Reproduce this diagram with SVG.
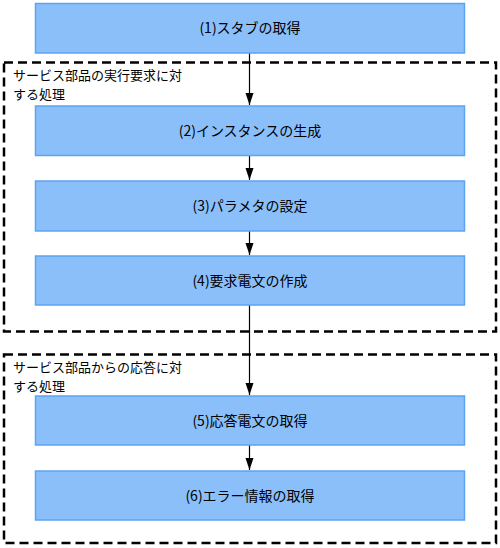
<svg xmlns="http://www.w3.org/2000/svg" width="500" height="548" viewBox="0 0 500 548">
<style>
.box{fill:#8BBFFA;stroke:#5CA4F2;stroke-width:1.5}
.lbl{font-family:"Noto Sans CJK JP","Liberation Sans",sans-serif;font-size:14px;fill:#000;text-anchor:middle}
.grp{fill:none;stroke:#000;stroke-width:2.5;stroke-dasharray:9 5}
.gl{font-family:"Noto Sans CJK JP","Liberation Sans",sans-serif;font-size:13px;fill:#000}
.con{stroke:#000;stroke-width:1.2;fill:none}
</style>
<defs>
<marker id="ah" markerWidth="12" markerHeight="10" refX="12" refY="5" orient="auto" markerUnits="userSpaceOnUse" viewBox="0 0 12 10">
<path d="M0,1 L0,9 L12,5 Z" fill="#000"/>
</marker>
</defs>
<g id="group1">
<rect class="grp" x="4" y="62.5" width="492" height="269"/>
<text class="gl" x="13" y="80">サービス部品の実行要求に対</text>
<text class="gl" x="13" y="99">する処理</text>
</g>
<g id="group2">
<rect class="grp" x="4" y="354.5" width="492" height="188.5"/>
<text class="gl" x="13" y="372">サービス部品からの応答に対</text>
<text class="gl" x="13" y="391">する処理</text>
</g>
<g id="connectors">
<line class="con" x1="249.5" y1="53" x2="249.5" y2="105" marker-end="url(#ah)"/>
<line class="con" x1="249.5" y1="156" x2="249.5" y2="180" marker-end="url(#ah)"/>
<line class="con" x1="249.5" y1="231" x2="249.5" y2="255" marker-end="url(#ah)"/>
<line class="con" x1="249.5" y1="305" x2="249.5" y2="395" marker-end="url(#ah)"/>
<line class="con" x1="249.5" y1="445" x2="249.5" y2="470" marker-end="url(#ah)"/>
</g>
<g id="n1"><rect class="box" x="35.5" y="3.5" width="429" height="49.5"/><text class="lbl" x="250" y="33">(1)スタブの取得</text></g>
<g id="n2"><rect class="box" x="35.5" y="106" width="429" height="49.5"/><text class="lbl" x="250" y="136">(2)インスタンスの生成</text></g>
<g id="n3"><rect class="box" x="35.5" y="181" width="429" height="50"/><text class="lbl" x="250" y="211">(3)パラメタの設定</text></g>
<g id="n4"><rect class="box" x="35.5" y="256" width="429" height="49"/><text class="lbl" x="250" y="286">(4)要求電文の作成</text></g>
<g id="n5"><rect class="box" x="35.5" y="396" width="429" height="49"/><text class="lbl" x="250" y="426">(5)応答電文の取得</text></g>
<g id="n6"><rect class="box" x="35.5" y="471" width="429" height="49"/><text class="lbl" x="250" y="501">(6)エラー情報の取得</text></g>
</svg>
